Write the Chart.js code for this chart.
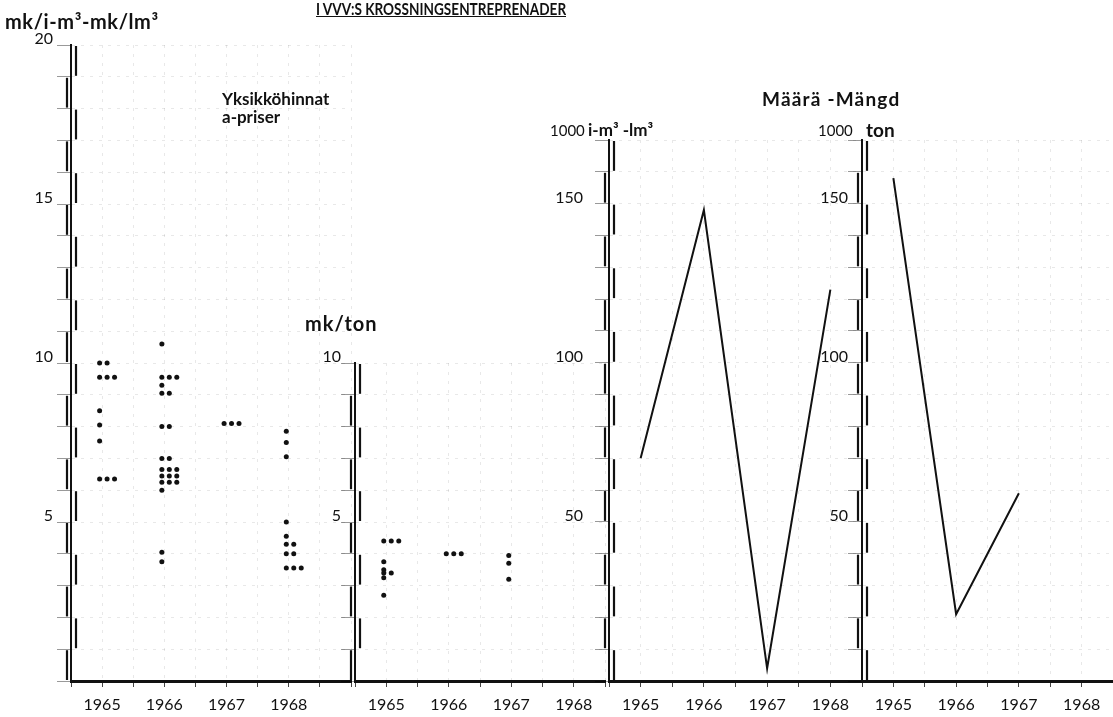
<!DOCTYPE html>
<html>
<head>
<meta charset="utf-8">
<script src="https://cdn.jsdelivr.net/npm/chart.js@4.4.0/dist/chart.umd.min.js"></script>
<style>
  body { margin: 0; background: #fff; width: 1113px; height: 717px; position: relative; overflow: hidden; font-family: Lato, sans-serif; color: #111; }
  canvas { position: absolute; top: 0; }
  .t { position: absolute; white-space: nowrap; font-weight: 700; font-size: 17px; line-height: 1; }
  .n { font-weight: 400; font-size: 15px; }
</style>
</head>
<body>
<canvas id="p1" width="355" height="717" style="left:0px"></canvas>
<canvas id="p2" width="314" height="717" style="left:295px"></canvas>
<canvas id="p3" width="313" height="717" style="left:549px"></canvas>
<canvas id="p4" width="311" height="717" style="left:802px"></canvas>

<div class="t" style="left:316px;top:0px;font-size:17px;text-decoration:underline;transform:scaleX(0.8);transform-origin:0 0">I VVV:S KROSSNINGSENTREPRENADER</div>
<div class="t" style="left:5px;top:11px;font-size:20px;letter-spacing:0.6px">mk/i-m³-mk/lm³</div>
<div class="t" style="left:222px;top:90px">Yksikköhinnat</div>
<div class="t" style="left:222px;top:108px">a-priser</div>
<div class="t" style="left:305px;top:313px;font-size:20px;letter-spacing:1px">mk/ton</div>
<div class="t n" style="left:550px;top:123px">1000</div>
<div class="t" style="left:588px;top:121px">i-m³ -lm³</div>
<div class="t" style="left:762px;top:89px;font-size:19px;letter-spacing:1.2px">Määrä -Mängd</div>
<div class="t n" style="left:818px;top:123px">1000</div>
<div class="t" style="left:866px;top:120px;font-size:19px">ton</div>

<script>
Chart.defaults.font.family = 'Lato, sans-serif';

const years = [1965, 1966, 1967, 1968];

// unit prices, mk/i-m3 - mk/lm3, one dot per contractor
const priceM3_1965 = [10.0, 10.0, 9.55, 9.55, 9.55, 8.5, 8.05, 7.55, 6.35, 6.35, 6.35];
const priceM3_1966 = [10.6, 9.55, 9.55, 9.55, 9.3, 9.05, 9.05, 8.0, 8.0, 7.0, 7.0,
  6.65, 6.65, 6.65, 6.45, 6.45, 6.45, 6.25, 6.25, 6.25, 6.0, 4.05, 3.75];
const priceM3_1967 = [8.1, 8.1, 8.1];
const priceM3_1968 = [7.85, 7.5, 7.05, 5.0, 4.55, 4.3, 4.3, 4.0, 4.0, 3.55, 3.55, 3.55];

// unit prices, mk/ton
const priceTon_1965 = [4.4, 4.4, 4.4, 3.75, 3.5, 3.4, 3.4, 3.25, 2.7];
const priceTon_1966 = [4.0, 4.0, 4.0];
const priceTon_1967 = [3.95, 3.7, 3.2];
const priceTon_1968 = [];

// quantities, 1000 i-m3 - lm3 and 1000 ton
const volumeM3 = [70, 148, 4, 123];
const volumeTon = [158, 21, 59, null];

// equal values of one year sit side by side
function dots(lists) {
  return lists.flatMap((vals, i) => {
    const seen = {};
    return vals.map(v => {
      seen[v] = (seen[v] === undefined) ? 0 : seen[v] + 1;
      return { x: years[i] - 0.04 + seen[v] * 0.12, y: v };
    });
  });
}

function line(vals) {
  return years.map((yr, i) => ({ x: yr, y: vals[i] }));
}

// the double "ruler" y axis of the original
const rulerPlugin = {
  id: 'ruler',
  afterDraw(chart, args, opts) {
    const ys = chart.scales.y, ctx = chart.ctx, x0 = chart.chartArea.left;
    ctx.save();
    ctx.strokeStyle = '#111';
    ctx.lineWidth = 2.2;
    let i = 0;
    for (let v = ys.min; v < ys.max - 1e-9; v += opts.step, i++) {
      const right = (i + (opts.startRight ? 0 : 1)) % 2 === 0;
      const x = x0 + (right ? 5 : -4);
      ctx.beginPath();
      ctx.moveTo(x, ys.getPixelForValue(v) - 1);
      ctx.lineTo(x, ys.getPixelForValue(v + opts.step) + 1);
      ctx.stroke();
    }
    ctx.restore();
  }
};

function panel(id, type, datasets, o) {
  return new Chart(document.getElementById(id), {
    type: type,
    data: { datasets: datasets },
    options: {
      responsive: false,
      animation: false,
      layout: { padding: { top: o.top, left: 0, right: 0, bottom: 0 } },
      plugins: {
        legend: { display: false },
        tooltip: { enabled: false },
        ruler: { step: o.step, startRight: o.startRight }
      },
      scales: {
        x: {
          type: 'linear',
          min: 1964.5,
          max: o.xmax,
          afterBuildTicks: s => {
            s.ticks = [];
            for (let v = s.min; v <= s.max + 1e-9; v += 0.5) s.ticks.push({ value: v });
          },
          afterFit: s => { s.height = 36; s.paddingLeft = 0; s.paddingRight = 0; },
          ticks: {
            callback: v => years.includes(v) ? String(v) : '',
            font: { size: 16 }, color: '#111', padding: 8,
            maxRotation: 0, autoSkip: false
          },
          grid: { color: 'rgba(0,0,0,0.09)', tickLength: 6, tickColor: '#444' },
          border: { color: '#111', width: 3, dash: [3, 6] }
        },
        y: {
          min: 0,
          max: o.ymax,
          afterFit: s => { s.width = o.yw; },
          ticks: {
            stepSize: o.step,
            callback: v => (v > 0 && v % o.label === 0) ? String(v) : '',
            labelOffset: -6, padding: o.pad,
            font: { size: 16 }, color: '#111', autoSkip: false
          },
          grid: { color: 'rgba(0,0,0,0.09)', tickLength: 14, tickColor: 'rgba(0,0,0,0.4)' },
          border: { color: '#111', width: 2, dash: [3, 6] }
        }
      }
    },
    plugins: [rulerPlugin]
  });
}

const dotStyle = { pointRadius: 2.5, pointBackgroundColor: '#111', pointBorderWidth: 0 };
const lineStyle = { borderColor: '#111', borderWidth: 2, pointRadius: 0, tension: 0, fill: false };

panel('p1', 'scatter',
  [Object.assign({ data: dots([priceM3_1965, priceM3_1966, priceM3_1967, priceM3_1968]) }, dotStyle)],
  { top: 45, xmax: 1969, ymax: 20, step: 1, label: 5, yw: 71, pad: 4, startRight: false });

panel('p2', 'scatter',
  [Object.assign({ data: dots([priceTon_1965, priceTon_1966, priceTon_1967, priceTon_1968]) }, dotStyle)],
  { top: 363, xmax: 1968.5, ymax: 10, step: 1, label: 5, yw: 60, pad: 0, startRight: false });

panel('p3', 'line',
  [Object.assign({ data: line(volumeM3) }, lineStyle)],
  { top: 140, xmax: 1968.5, ymax: 170, step: 10, label: 50, yw: 60, pad: 12, startRight: true });

panel('p4', 'line',
  [Object.assign({ data: line(volumeTon) }, lineStyle)],
  { top: 140, xmax: 1968.5, ymax: 170, step: 10, label: 50, yw: 60, pad: 0, startRight: true });
</script>
</body>
</html>
